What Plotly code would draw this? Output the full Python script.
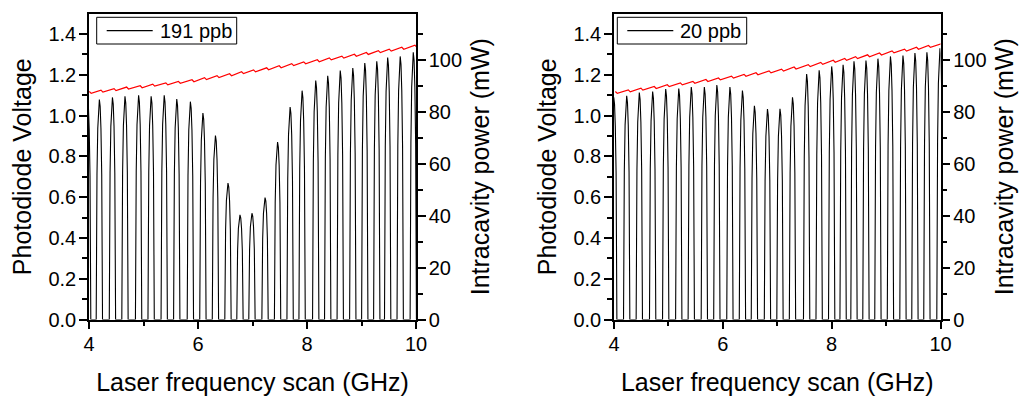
import plotly.graph_objects as go

# ---------------- data ----------------
# Left panel (191 ppb): cavity transmission peak centres (GHz) and heights (V)
L_PEAK_X = [3.975, 4.19, 4.43, 4.66, 4.91, 5.14, 5.38, 5.61, 5.86, 6.09, 6.32, 6.55, 6.77,
            6.99, 7.23, 7.46, 7.69, 7.91, 8.16, 8.38, 8.61, 8.84, 9.06, 9.28, 9.48, 9.71, 9.95]
L_PEAK_V = [1.07, 1.078, 1.089, 1.094, 1.099, 1.094, 1.099, 1.081, 1.068, 1.012, 0.902, 0.669, 0.513,
            0.521, 0.598, 0.870, 1.042, 1.122, 1.172, 1.195, 1.221, 1.233, 1.258, 1.266, 1.285, 1.290, 1.310]
# intracavity power crest per peak (mW)
L_RED_CREST = [87.7, 88.2, 88.8, 89.4, 89.9, 90.5, 91.0, 91.6, 92.2, 93.0, 93.8, 94.5, 95.3,
               96.0, 96.8, 97.6, 98.4, 99.1, 99.9, 100.6, 101.3, 102.0, 102.7, 103.4, 104.0, 104.7, 105.5]

# Right panel (20 ppb)
R_PEAK_X = [3.995, 4.233, 4.465, 4.71, 4.95, 5.19, 5.42, 5.66, 5.89, 6.13, 6.36, 6.58, 6.82,
            7.05, 7.28, 7.54, 7.77, 8.00, 8.21, 8.41, 8.63, 8.85, 9.08, 9.31, 9.53, 9.75, 9.99]
R_PEAK_V = [1.09, 1.097, 1.113, 1.118, 1.130, 1.132, 1.140, 1.140, 1.150, 1.140, 1.123, 1.048, 1.032,
            1.033, 1.090, 1.204, 1.222, 1.241, 1.249, 1.266, 1.270, 1.279, 1.290, 1.294, 1.307, 1.310, 1.330]
R_RED_CREST = [87.7, 88.3, 89.0, 89.6, 90.3, 91.0, 91.6, 92.3, 92.9, 93.6, 94.3, 94.9, 95.6,
               96.3, 97.1, 98.0, 98.9, 99.7, 100.4, 101.1, 101.8, 102.5, 103.3, 104.0, 104.7, 105.4, 106.1]

# shape of a single transmission fringe (relative offset, relative height)
PROFILE_U = [-1.0, -0.98, -0.9, -0.75, -0.5, -0.25, 0.0, 0.25, 0.5, 0.75, 0.9, 0.98, 1.0]
PROFILE_F = [0.0, 0.20, 0.44, 0.66, 0.87, 0.97, 1.0, 0.97, 0.87, 0.66, 0.44, 0.20, 0.0]
HALF_WIDTH = 0.058          # GHz
RED_CREST_OFFSET = 0.03     # GHz after the fringe centre
RED_DIP_OFFSET = 0.065
RED_DIP_DEPTH = 0.75        # mW

LEGEND_L = "191 ppb"
LEGEND_R = "20 ppb"
X_TITLE = "Laser frequency scan (GHz)"
Y_TITLE = "Photodiode Voltage"
Y2_TITLE = "Intracavity power (mW)"


def fringe_trace(px, pv):
    xs, ys = [], []
    for c, h in zip(px, pv):
        for u, f in zip(PROFILE_U, PROFILE_F):
            xs.append(c + u * HALF_WIDTH)
            ys.append(h * f)
    return xs, ys


def red_trace(px, crest):
    xs, ys = [], []
    for c, v in zip(px, crest):
        xs += [c + RED_CREST_OFFSET, c + RED_DIP_OFFSET]
        ys += [v, v - RED_DIP_DEPTH]
    return xs, ys


FONT = "Liberation Sans, Arial, sans-serif"
W, H = 1024, 398
fig = go.Figure()

for k, (px, pv, crest, name) in enumerate([(L_PEAK_X, L_PEAK_V, L_RED_CREST, LEGEND_L),
                                            (R_PEAK_X, R_PEAK_V, R_RED_CREST, LEGEND_R)]):
    xa = "x" if k == 0 else "x2"
    ya = "y" if k == 0 else "y3"
    ya2 = "y2" if k == 0 else "y4"
    bx, by = fringe_trace(px, pv)
    rx, ry = red_trace(px, crest)
    fig.add_trace(go.Scatter(x=bx, y=by, mode="lines", name=name, showlegend=False,
                             line=dict(color="black", width=1.1),
                             xaxis=xa, yaxis=ya))
    fig.add_trace(go.Scatter(x=rx, y=ry, mode="lines", showlegend=False,
                             line=dict(color="#ff0000", width=1.2),
                             xaxis=xa, yaxis=ya2))

ydom = [(H - 319.5) / H, (H - 14) / H]
xdoms = [[89 / W, 416 / W], [614 / W, 940.5 / W]]

tickfont = dict(family=FONT, size=20, color="black")
titlefont = dict(family=FONT, size=25, color="black")

common = dict(showline=True, linecolor="black", linewidth=1.5, ticks="outside",
              ticklen=8, tickwidth=1.5, tickcolor="black", showgrid=False,
              zeroline=False, tickfont=tickfont, automargin=False)

layout = dict(width=W, height=H, margin=dict(l=0, r=0, t=0, b=0),
              paper_bgcolor="white", plot_bgcolor="white", showlegend=False)

for k in range(2):
    xn = "xaxis" if k == 0 else "xaxis2"
    yn = "yaxis" if k == 0 else "yaxis3"
    y2n = "yaxis2" if k == 0 else "yaxis4"
    xid = "x" if k == 0 else "x2"
    yid = "y" if k == 0 else "y3"
    layout[xn] = dict(common, domain=xdoms[k], range=[4, 10], anchor=yid, mirror=True,
                      tick0=4, dtick=2, ticklabelstandoff=-2,
                      minor=dict(ticks="outside", dtick=1, ticklen=5, tickwidth=1.5, tickcolor="black"),
                      title=dict(text=X_TITLE, font=titlefont, standoff=19))
    layout[yn] = dict(common, domain=ydom, range=[0, 1.498], anchor=xid, tick0=0, dtick=0.2,
                      tickformat=".1f", ticklabelstandoff=-1,
                      minor=dict(ticks="outside", dtick=0.1, ticklen=5, tickwidth=1.5, tickcolor="black"),
                      title=dict(text=Y_TITLE, font=titlefont, standoff=10))
    layout[y2n] = dict(common, domain=ydom, range=[0, 117.5], anchor=xid, overlaying=yid,
                       side="right", tick0=0, dtick=20, ticklabelstandoff=-1,
                       minor=dict(ticks="outside", dtick=10, ticklen=5, tickwidth=1.5, tickcolor="black"),
                       title=dict(text=Y2_TITLE, font=titlefont, standoff=10))

# hand-drawn legend boxes (paper coordinates derived from pixel positions)
def px2x(p):
    return p / W


def px2y(p):
    return (H - p) / H


shapes, annotations = [], []
for box_l, box_r, label in [(96.7, 236.7, LEGEND_L), (617.3, 746.7, LEGEND_R)]:
    top, bot = 17.3, 44.0
    mid = (top + bot) / 2
    shapes.append(dict(type="rect", xref="paper", yref="paper",
                       x0=px2x(box_l), x1=px2x(box_r), y0=px2y(bot), y1=px2y(top),
                       line=dict(color="black", width=1), fillcolor="white", layer="above"))
    shapes.append(dict(type="line", xref="paper", yref="paper",
                       x0=px2x(box_l + 10), x1=px2x(box_l + 56), y0=px2y(mid), y1=px2y(mid),
                       line=dict(color="black", width=1.1), layer="above"))
    annotations.append(dict(text=label, xref="paper", yref="paper", x=px2x(box_l + 61), y=px2y(mid),
                            xanchor="left", yanchor="middle", showarrow=False,
                            font=dict(family=FONT, size=20, color="black")))
layout["shapes"] = shapes
layout["annotations"] = annotations

fig.update_layout(**layout)
fig.write_html("out.html", post_script="document.body.style.margin='0';",
               config={"displayModeBar": False})
